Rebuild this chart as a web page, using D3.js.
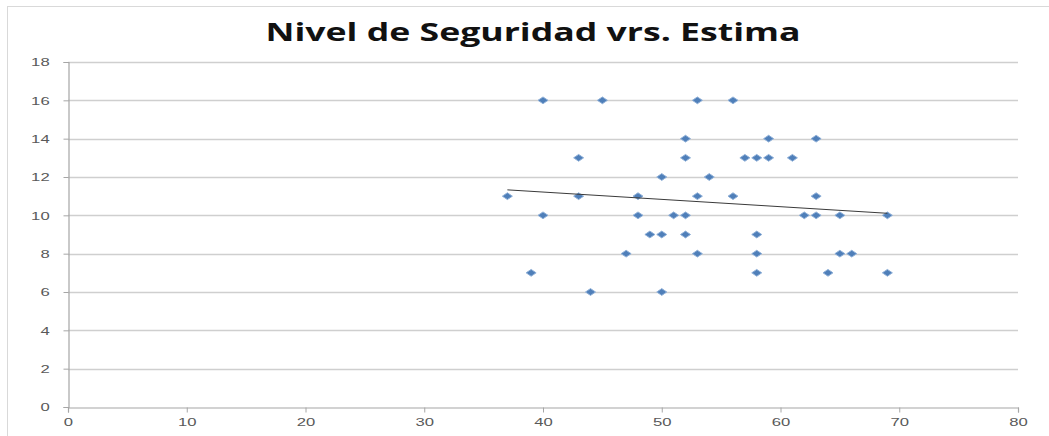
<!DOCTYPE html>
<html>
<head>
<meta charset="utf-8">
<script src="https://cdn.jsdelivr.net/npm/d3@7"></script>
<style>
  html, body { margin: 0; padding: 0; background: #fff; }
  svg { display: block; }
</style>
</head>
<body>
<svg id="chart" width="1049" height="436"></svg>
<script>
// Data
const title = "Nivel de Seguridad vrs. Estima";
const estima = [37, 39, 40, 40, 43, 43, 44, 45, 47, 48, 48, 49, 50, 50, 50, 51, 52, 52, 52, 52, 53, 53, 53, 54, 56, 56, 57, 58, 58, 58, 58, 59, 59, 61, 62, 63, 63, 63, 64, 65, 65, 66, 69, 69];
const seguridad = [11, 7, 16, 10, 13, 11, 6, 16, 8, 11, 10, 9, 12, 9, 6, 10, 14, 13, 10, 9, 16, 11, 8, 12, 16, 11, 13, 13, 9, 8, 7, 14, 13, 13, 10, 14, 11, 10, 7, 10, 8, 8, 10, 7];
const xTicks = [0, 10, 20, 30, 40, 50, 60, 70, 80];
const yTicks = [0, 2, 4, 6, 8, 10, 12, 14, 16, 18];

const svg = d3.select("#chart");
const W = 1049, H = 436;
const plot = { left: 68, right: 1018, top: 62, bottom: 407 };
const stretch = 1.45; // the reference is horizontally stretched

// outer chart frame (left & top visible)
svg.append("rect").attr("x", 7.5).attr("y", 6.5).attr("width", W + 10).attr("height", H + 10)
  .attr("fill", "#fff").attr("stroke", "#d9d9d9").attr("stroke-width", 1);

const x = d3.scaleLinear().domain([0, 80]).range([plot.left, plot.right]);
const y = d3.scaleLinear().domain([0, 18]).range([plot.bottom, plot.top]);

// gridlines
svg.append("g").selectAll("line").data(yTicks.filter(d => d > 0)).join("line")
  .attr("x1", plot.left).attr("x2", plot.right)
  .attr("y1", d => Math.round(y(d)) + 0.5).attr("y2", d => Math.round(y(d)) + 0.5)
  .attr("stroke", "#cfcfcf").attr("stroke-width", 1.3);

// axes
const font = "'Liberation Sans', Arial, sans-serif";
const yAxis = svg.append("g").attr("transform", `translate(${plot.left + 0.5},0)`)
  .call(d3.axisLeft(y).tickValues(yTicks).tickSize(5).tickPadding(8).tickFormat(d3.format("d")));
const xAxis = svg.append("g").attr("transform", `translate(0,${plot.bottom + 0.5})`)
  .call(d3.axisBottom(x).tickValues(xTicks).tickSize(5).tickPadding(5).tickFormat(d3.format("d")));
[yAxis, xAxis].forEach(g => {
  g.select(".domain").attr("stroke", "#a6a6a6").attr("stroke-width", 1.2);
  g.selectAll(".tick line").attr("stroke", "#a6a6a6");
  g.selectAll(".tick text").attr("fill", "#595959").style("font-family", font).style("font-size", "11.5px")
    .attr("transform", `scale(${stretch},1)`);
});

// wide diamond marker (horizontally stretched like the reference)
const wideDiamond = {
  draw(ctx, size) {
    const hw = 5, hh = 3.4;
    ctx.moveTo(-hw, 0); ctx.lineTo(0, -hh); ctx.lineTo(hw, 0); ctx.lineTo(0, hh); ctx.closePath();
  }
};
svg.append("g").selectAll("path").data(estima.map((d, i) => [d, seguridad[i]])).join("path")
  .attr("d", d3.symbol().type(wideDiamond))
  .attr("transform", d => `translate(${x(d[0])},${y(d[1])})`)
  .attr("fill", "#4f7fb9").attr("stroke", "#8fb0d8").attr("stroke-width", 1);

// linear trendline (least squares over the data)
const n = estima.length;
const mx = d3.mean(estima), my = d3.mean(seguridad);
let sxy = 0, sxx = 0;
for (let i = 0; i < n; i++) { sxy += (estima[i] - mx) * (seguridad[i] - my); sxx += (estima[i] - mx) ** 2; }
const slope = sxy / sxx, icpt = my - slope * mx;
const [x0, x1] = d3.extent(estima);
svg.append("path")
  .datum([[x0, icpt + slope * x0], [x1, icpt + slope * x1]])
  .attr("d", d3.line().x(d => x(d[0])).y(d => y(d[1])))
  .attr("fill", "none").attr("stroke", "#3a3a3a").attr("stroke-width", 1);

// title
svg.append("text").attr("x", 533).attr("y", 41).attr("text-anchor", "middle")
  .style("font-family", "'Open Sans', sans-serif").style("font-weight", "bold").style("font-size", "25px")
  .attr("textLength", 535).attr("lengthAdjust", "spacingAndGlyphs")
  .attr("fill", "#111").text(title);
</script>
</body>
</html>
